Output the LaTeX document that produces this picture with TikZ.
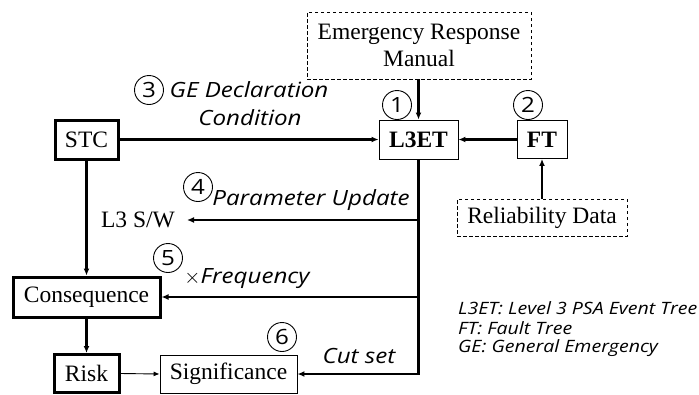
\documentclass[tikz,border=0pt]{standalone}
\usepackage{fontspec}
\setmainfont{Liberation Serif}
\newfontfamily\labfont{Open Sans}[FakeStretch=1.15]
\usetikzlibrary{arrows.meta,calc}
\tikzset{
  box/.style={draw, line width=0.9pt, inner sep=0pt, font=\fontsize{23.5}{27}\selectfont},
  thickbox/.style={box, line width=3pt},
  dashbox/.style={box, dashed, dash pattern=on 3.5pt off 2.5pt},
  flow/.style={line width=2.4pt, -{Latex[length=7pt,width=6pt]}},
  thinflow/.style={line width=0.9pt, -{Latex[length=6pt,width=5pt]}},
  numcirc/.style={circle, draw, line width=0.9pt, minimum size=29pt, inner sep=0pt, font=\labfont\fontsize{21}{21}\selectfont},
  lab/.style={font=\labfont\itshape\fontsize{21}{23}\selectfont, inner sep=0pt},
  legend/.style={font=\labfont\itshape\fontsize{17}{18}\selectfont, inner sep=0pt, anchor=west}
}
\begin{document}
\begin{tikzpicture}[x=1pt,y=-1pt]
\useasboundingbox (0,0) rectangle (699,394);

% boxes
\node[dashbox, minimum width=224pt, minimum height=67pt, align=center] (erm) at (419,45.5) {Emergency Response\\Manual};
\node[box, minimum width=79pt, minimum height=39pt, font=\fontsize{23.5}{27}\selectfont\bfseries] (l3et) at (418.5,139.5) {L3ET};
\node[box, minimum width=50pt, minimum height=38pt, font=\fontsize{23.5}{27}\selectfont\bfseries] (ft) at (542,139.5) {FT};
\node[dashbox, minimum width=170pt, minimum height=37pt] (rel) at (542,217.5) {Reliability Data};
\node[thickbox, minimum width=63pt, minimum height=39pt] (stc) at (86.5,139.5) {STC};
\node[thickbox, minimum width=147pt, minimum height=40pt] (cons) at (86.5,297) {Consequence};
\node[thickbox, minimum width=65pt, minimum height=38pt] (risk) at (86.5,373.5) {Risk};
\node[box, minimum width=137pt, minimum height=38pt] (sig) at (228.5,374) {Significance};
\node[font=\fontsize{23.5}{27}\selectfont, inner sep=0pt, anchor=east] (sw) at (175,220) {L3 S/W};

% numbered markers
\node[numcirc] (c1) at (397,105) {1};
\node[numcirc] (c2) at (528,105) {2};
\node[numcirc] (c3) at (149,90) {3};
\node[numcirc] (c4) at (198,187) {4};
\node[numcirc] (c5) at (168,258) {5};
\node[numcirc] (c6) at (282,337) {6};

% connector labels
\node[lab] (geA) at (249,90) {GE Declaration};
\node[lab] (geB) at (250,118) {Condition};
\node[lab] (par) at (311,200) {Parameter Update};
\node[lab] (freq) at (247,279) {$\times$Frequency};
\node[lab] (cut) at (359,356) {Cut set};

% legend
\node[legend] (lg1) at (458,308) {L3ET: Level 3 PSA Event Tree};
\node[legend] (lg2) at (458,328) {FT: Fault Tree};
\node[legend] (lg3) at (458,348) {GE: General Emergency};

% junctions on the L3ET output line
\coordinate (j1) at (l3et.south |- sw.east);
\coordinate (j2) at (l3et.south |- cons.east);
\coordinate (j3) at (l3et.south |- sig.east);

% connectors
\draw[flow] (erm.south -| l3et.north) -- (l3et.north);
\draw[flow] (ft.west) -- (l3et.east);
\draw[flow] (rel.north) -- (ft.south);
\draw[flow] (stc.east) -- (l3et.west);
\draw[flow] (l3et.south) -- (j3) -- (sig.east);
\draw[flow] (j1) -- ([xshift=12pt]sw.east);
\draw[flow] (j2) -- (cons.east);
\draw[flow] (stc.south) -- (cons.north);
\draw[flow] (cons.south) -- (risk.north);
\draw[thinflow] (risk.east) -- (sig.west);
\end{tikzpicture}
\end{document}
